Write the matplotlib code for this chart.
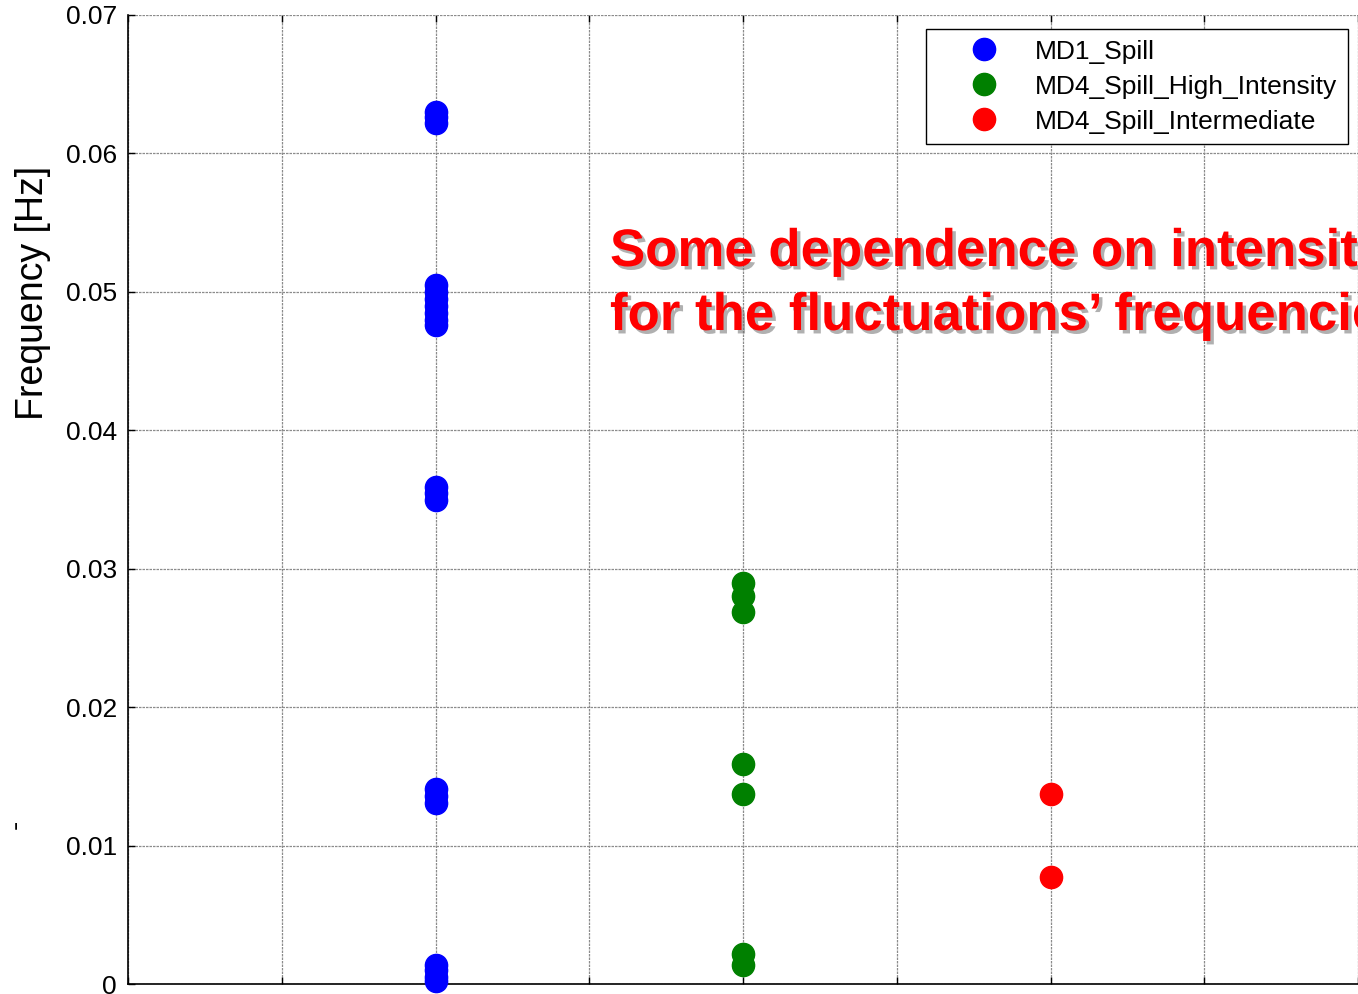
import matplotlib
matplotlib.use("Agg")
import matplotlib.pyplot as plt
import matplotlib.patheffects as pe

plt.rcParams['font.family'] = ['Liberation Sans', 'DejaVu Sans']

# ---- data ----
series_names = ["MD1_Spill", "MD4_Spill_High_Intensity", "MD4_Spill_Intermediate"]
series_colors = ["#0000ff", "#008000", "#ff0000"]
series_x = [2, 4, 6]
md1_spill = [0.0630, 0.0626, 0.0622,
             0.0505, 0.0500, 0.0495, 0.0490, 0.0485, 0.0480, 0.0476,
             0.0359, 0.0355, 0.0350,
             0.0141, 0.0136, 0.0131,
             0.0014, 0.0010, 0.0005, 0.0002]
md4_high = [0.0290, 0.0280, 0.0269, 0.0159, 0.0137, 0.0022, 0.0014]
md4_inter = [0.0137, 0.0077]
yticks = [0, 0.01, 0.02, 0.03, 0.04, 0.05, 0.06, 0.07]
ytick_labels = ["0", "0.01", "0.02", "0.03", "0.04", "0.05", "0.06", "0.07"]
xticks = [0, 1, 2, 3, 4, 5, 6, 7, 8]
annotation_lines = ["Some dependence on intensity", "for the fluctuations\u2019 frequencies"]

W, H = 1358, 994
fig = plt.figure(figsize=(W / 100, H / 100), dpi=100)
ax = fig.add_axes([128 / W, 1 - 984 / H, 1 - 128 / W, (984 - 15) / H])

for name, col, xv, vals in zip(series_names, series_colors, series_x,
                               [md1_spill, md4_high, md4_inter]):
    ax.plot([xv] * len(vals), vals, linestyle='none', marker='o', markersize=16,
            color=col, markeredgecolor=col, label=name, clip_on=False, zorder=3)

ax.set_xlim(0, 8)
ax.set_ylim(0, 0.07)
ax.set_xticks(xticks)
ax.set_xticklabels([])
ax.set_yticks(yticks)
ax.set_yticklabels(ytick_labels, fontsize=19)
ax.grid(True, color='#8c8c8c', linestyle=(0, (2, 0.8)), linewidth=0.9)
ax.tick_params(direction='in', length=5, width=1, top=True, right=False, pad=8)
for s in ['top', 'right']:
    ax.spines[s].set_visible(False)
for s in ['left', 'bottom']:
    ax.spines[s].set_linewidth(1.2)

fig.text(33 / W, 1 - 293 / H, "Frequency [Hz]", rotation=90, fontsize=27,
         ha='center', va='center')
fig.text(16 / W, 1 - 824 / H, "-", rotation=90, fontsize=20,
         ha='center', va='center')

leg = ax.legend(loc='upper right', bbox_to_anchor=(1348 / W, 1 - 29 / H),
                bbox_transform=fig.transFigure, fontsize=19, frameon=True,
                fancybox=False, edgecolor='black', framealpha=1,
                borderpad=0.4, labelspacing=0.42, handletextpad=0.15,
                handlelength=3.6, borderaxespad=0)
leg.get_frame().set_linewidth(1.0)
for h in leg.legend_handles:
    h.set_markersize(16)

for txt, base in zip(annotation_lines, [266, 330]):
    fig.text(610 / W, 1 - base / H, txt, color='#ff0000', fontsize=38,
             fontweight='bold', ha='left', va='baseline',
             path_effects=[pe.withSimplePatchShadow(offset=(2.5, -2.5),
                                                    shadow_rgbFace='#707070',
                                                    alpha=0.55)])

fig.savefig("out.png", dpi=100)
